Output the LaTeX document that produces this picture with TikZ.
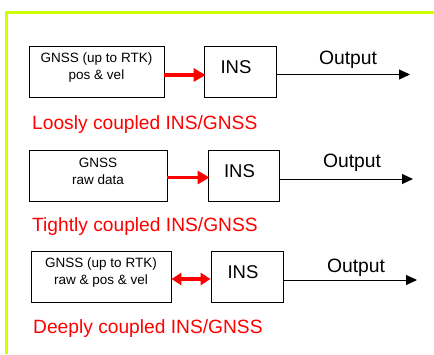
\documentclass[tikz,border=0pt]{standalone}
\usepackage{fontspec}
\setmainfont{Liberation Sans}
\usepackage{tikz}
\usepackage{xcolor}
\usetikzlibrary{arrows.meta}
\definecolor{framegreen}{RGB}{204,255,0}

\tikzset{
  block/.style={draw, line width=0.9pt, inner sep=0pt, minimum height=51pt},
  gnsstext/.style={font=\fontsize{13.5}{17}\selectfont, align=center, yshift=4pt},
  instext/.style={font=\fontsize{18.5}{22}\selectfont, xshift=-4pt, yshift=4pt},
  outtext/.style={font=\fontsize{19.3}{23}\selectfont, anchor=base},
  caption/.style={font=\fontsize{19.2}{23}\selectfont, text=red, anchor=base west, inner sep=0pt},
  redarrow/.style={red, line width=3.5pt, shorten >=-2pt, -{Triangle[length=12pt,width=13pt]}},
  redboth/.style={red, line width=3.5pt, {Triangle[length=10pt,width=12pt]}-{Triangle[length=10pt,width=12pt]}},
  outarrow/.style={line width=1pt, -{Triangle[length=11pt,width=10pt]}}
}

\begin{document}
\begin{tikzpicture}[x=1pt, y=-1pt]
\useasboundingbox (0,0) rectangle (434,354);
\draw [framegreen, line width=3pt] (6,354) -- (6,12) -- (434,12);

\node [block, minimum width=135pt, label={[gnsstext]center:GNSS (up to RTK)\\pos \& vel}] (gnss1) at (96.5,71.5) {};
\node [block, minimum width=72pt, label={[instext]center:INS}] (ins1) at (240,71.5) {};
\coordinate (out1) at (410,74.5);
\draw [redarrow] ([yshift=-3.5pt]gnss1.east) -- ([yshift=-3.5pt]ins1.west);
\draw [outarrow] (ins1.east |- out1) -- (out1);
\node [outtext] (outlbl1) at (348,64) {Output};
\node [caption] (cap1) at (32,129) {Loosly coupled INS/GNSS};

\node [block, minimum width=138pt, label={[gnsstext]center:GNSS\\raw data}] (gnss2) at (98,175.5) {};
\node [block, minimum width=71pt, label={[instext]center:INS}] (ins2) at (243.5,175.5) {};
\coordinate (out2) at (413,179);
\draw [redarrow] ([yshift=-2pt]gnss2.east) -- ([yshift=-2pt]ins2.west);
\draw [outarrow] (ins2.east |- out2) -- (out2);
\node [outtext] (outlbl2) at (352,167) {Output};
\node [caption] (cap2) at (32,231) {Tightly coupled INS/GNSS};

\node [block, minimum width=140pt, label={[gnsstext]center:GNSS (up to RTK)\\raw \& pos \& vel}] (gnss3) at (101,276.5) {};
\node [block, minimum width=72pt, label={[instext]center:INS}] (ins3) at (247,276.5) {};
\coordinate (out3) at (417,280);
\draw [redboth] ([yshift=-2.5pt]gnss3.east) -- ([yshift=-2.5pt]ins3.west);
\draw [outarrow] (ins3.east |- out3) -- (out3);
\node [outtext] (outlbl3) at (356,272) {Output};
\node [caption] (cap3) at (33,333) {Deeply coupled INS/GNSS};
\end{tikzpicture}
\end{document}
